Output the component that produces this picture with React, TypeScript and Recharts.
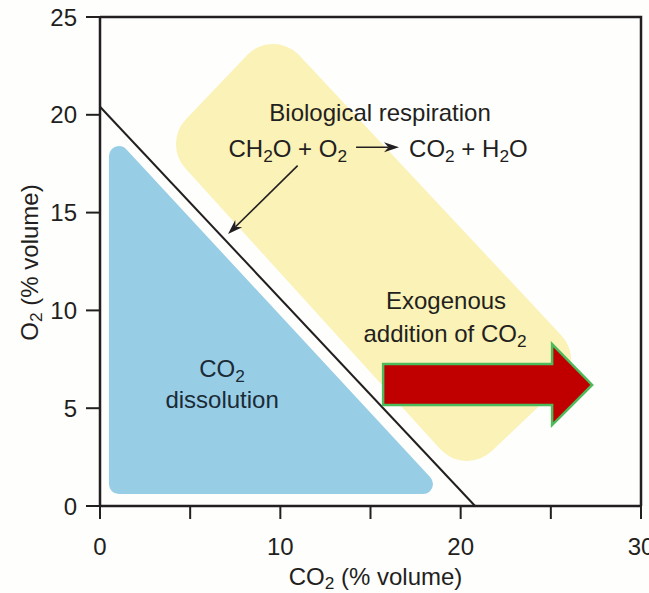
import React from 'react';
import { ComposedChart, Line, XAxis, YAxis } from 'recharts';

const FONT = '"Liberation Sans", Arial, Helvetica, sans-serif';
const INK = '#231f20';

// axis ticks (% volume)
const xTicks = [0, 5, 10, 15, 20, 25, 30];
const xTickLabels = [0, 10, 20, 30];
const yTicks = [0, 5, 10, 15, 20, 25];

// top and right edges of the plot box
const frameEdge = [
  { x: 0, y: 25 },
  { x: 30, y: 25 },
  { x: 30, y: 0 },
];

// CO2 + O2 ~ 21 % boundary
const boundaryLine = [
  { x: 0, y: 20.41 },
  { x: 20.8, y: 0 },
];

// zone corners (corners get rounded when drawn)
const respirationZone = [
  { x: 9.6, y: 21.78 },
  { x: 24.13, y: 7.46 },
  { x: 20.35, y: 4.14 },
  { x: 6.21, y: 18.5 },
];
const dissolutionZone = [
  { x: 1.05, y: 17.89 },
  { x: 17.91, y: 1.12 },
  { x: 1.05, y: 1.12 },
];

// big arrow: exogenous CO2 pushes the gas to the right
const exogenousArrow = [
  { x: 15.7, y: 7.26 },
  { x: 25.07, y: 7.26 },
  { x: 25.07, y: 8.28 },
  { x: 27.29, y: 6.19 },
  { x: 25.07, y: 4.14 },
  { x: 25.07, y: 5.16 },
  { x: 15.7, y: 5.16 },
];

// small arrows
const respirationArrow = [
  { x: 10.96, y: 17.4 },
  { x: 7.1, y: 13.9 },
];
const reactionArrow = [
  { x: 14.2, y: 18.34 },
  { x: 16.58, y: 18.34 },
];

// annotations, {n} = subscript
const labelText = [
  'Biological respiration',
  'CH{2}O + O{2}',
  'CO{2} + H{2}O',
  'Exogenous',
  'addition of CO{2}',
  'CO{2}',
  'dissolution',
];
const labelX = [15.53, 13.7, 17.14, 19.19, 19.13, 6.77, 6.77];
const labelY = [19.68, 17.84, 17.84, 10.07, 8.38, 6.6, 5.01];
const labelAnchor = ['middle', 'end', 'start', 'middle', 'middle', 'middle', 'middle'];
const labelColor = [INK, INK, INK, INK, INK, '#1b2b36', '#1b2b36'];

const labelPoints = labelText.map((text, i) => ({
  x: labelX[i],
  y: labelY[i],
  text,
  anchor: labelAnchor[i],
  color: labelColor[i],
}));

const withSubscripts = (text: string, size: number, drop = 5) => {
  const parts = text.split(/\{(\d)\}/);
  return parts.map((s, i) =>
    i % 2 ? (
      <tspan key={i} dy={drop} fontSize={size * 0.72}>
        {s}
      </tspan>
    ) : (
      <tspan key={i} dy={i ? -drop : 0}>
        {s}
      </tspan>
    )
  );
};

// filled polygon through the line's own points
const polygonDot =
  (fill: string, stroke: string, strokeWidth: number, join = 'round') =>
  (props: any) => {
    const { index, points } = props;
    if (index !== 0 || !points) return <g key={`v-${index}`} />;
    const d = points.map((p: any, i: number) => `${i ? 'L' : 'M'}${p.x},${p.y}`).join(' ') + ' Z';
    return (
      <path
        key="poly"
        d={d}
        fill={fill}
        stroke={stroke}
        strokeWidth={strokeWidth}
        strokeLinejoin={join as any}
      />
    );
  };

// thin arrow with a stealth head at the last point
const arrowDot = (props: any) => {
  const { index, points } = props;
  if (!points || index !== points.length - 1) return <g key={`a-${index}`} />;
  const a = points[0];
  const b = points[points.length - 1];
  const len = Math.hypot(b.x - a.x, b.y - a.y);
  const ux = (b.x - a.x) / len;
  const uy = (b.y - a.y) / len;
  const L = 15;
  const w = 5;
  const nx = -uy;
  const ny = ux;
  const head = [
    [b.x, b.y],
    [b.x - L * ux + w * nx, b.y - L * uy + w * ny],
    [b.x - 0.7 * L * ux, b.y - 0.7 * L * uy],
    [b.x - L * ux - w * nx, b.y - L * uy - w * ny],
  ];
  return (
    <g key="arrow">
      <line
        x1={a.x}
        y1={a.y}
        x2={b.x - 0.7 * L * ux}
        y2={b.y - 0.7 * L * uy}
        stroke={INK}
        strokeWidth={1.6}
      />
      <polygon points={head.map((p) => p.join(',')).join(' ')} fill={INK} />
    </g>
  );
};

const labelDot = (props: any) => {
  const { cx, cy, payload, index } = props;
  return (
    <text
      key={`t-${index}`}
      x={cx}
      y={cy}
      textAnchor={payload.anchor}
      fill={payload.color}
      fontSize={24}
      fontFamily={FONT}
    >
      {withSubscripts(payload.text, 24)}
    </text>
  );
};

const XTitle = (props: any) => {
  const { x, y, width } = props.viewBox;
  return (
    <text x={x + width / 2 + 5} y={y + 79} textAnchor="middle" fill={INK} fontSize={24} fontFamily={FONT}>
      {withSubscripts('CO{2} (% volume)', 24, 4)}
    </text>
  );
};

const YTitle = (props: any) => {
  const { y, height } = props.viewBox;
  const cx = 38;
  const cy = y + height / 2 + 1;
  return (
    <text
      x={cx}
      y={cy}
      transform={`rotate(-90 ${cx} ${cy})`}
      textAnchor="middle"
      fill={INK}
      fontSize={24}
      fontFamily={FONT}
    >
      {withSubscripts('O{2} (% volume)', 24, 4)}
    </text>
  );
};

const tickStyle = { fill: INK, fontSize: 24, fontFamily: FONT };

export default function App() {
  return (
    <div style={{ position: 'absolute', left: 0, top: 0, width: 649, height: 593, background: '#fefefd' }}>
      <ComposedChart width={649} height={593} margin={{ top: 17, right: 8, bottom: 0, left: 0 }}>
        <XAxis
          type="number"
          dataKey="x"
          domain={[0, 30]}
          ticks={xTicks}
          interval={0}
          tickFormatter={(v: number) => (xTickLabels.includes(v) ? String(v) : '')}
          tick={tickStyle}
          tickSize={13}
          tickMargin={19}
          height={87}
          axisLine={{ stroke: INK, strokeWidth: 2.5 }}
          tickLine={{ stroke: INK, strokeWidth: 2 }}
          label={(p: any) => <XTitle {...p} />}
        />
        <YAxis
          type="number"
          dataKey="y"
          domain={[0, 25]}
          ticks={yTicks}
          interval={0}
          tick={tickStyle}
          tickSize={14}
          tickMargin={9}
          width={100}
          axisLine={{ stroke: INK, strokeWidth: 2.5 }}
          tickLine={{ stroke: INK, strokeWidth: 2 }}
          label={(p: any) => <YTitle {...p} />}
        />

        <Line
          data={respirationZone}
          dataKey="y"
          stroke="none"
          dot={polygonDot('#faf2b6', '#faf2b6', 72)}
          activeDot={false}
          isAnimationActive={false}
        />
        <Line
          data={dissolutionZone}
          dataKey="y"
          stroke="none"
          dot={polygonDot('#98cde6', '#98cde6', 20)}
          activeDot={false}
          isAnimationActive={false}
        />
        <Line
          data={boundaryLine}
          dataKey="y"
          stroke={INK}
          strokeWidth={2}
          dot={false}
          activeDot={false}
          isAnimationActive={false}
        />
        <Line
          data={frameEdge}
          dataKey="y"
          stroke={INK}
          strokeWidth={2.5}
          dot={false}
          activeDot={false}
          isAnimationActive={false}
        />
        <Line
          data={respirationArrow}
          dataKey="y"
          stroke="none"
          dot={arrowDot}
          activeDot={false}
          isAnimationActive={false}
        />
        <Line
          data={reactionArrow}
          dataKey="y"
          stroke="none"
          dot={arrowDot}
          activeDot={false}
          isAnimationActive={false}
        />
        <Line
          data={exogenousArrow}
          dataKey="y"
          stroke="none"
          dot={polygonDot('#c00000', '#4cbb5c', 2.5, 'miter')}
          activeDot={false}
          isAnimationActive={false}
        />
        <Line
          data={labelPoints}
          dataKey="y"
          stroke="none"
          dot={labelDot}
          activeDot={false}
          isAnimationActive={false}
        />
      </ComposedChart>
    </div>
  );
}
